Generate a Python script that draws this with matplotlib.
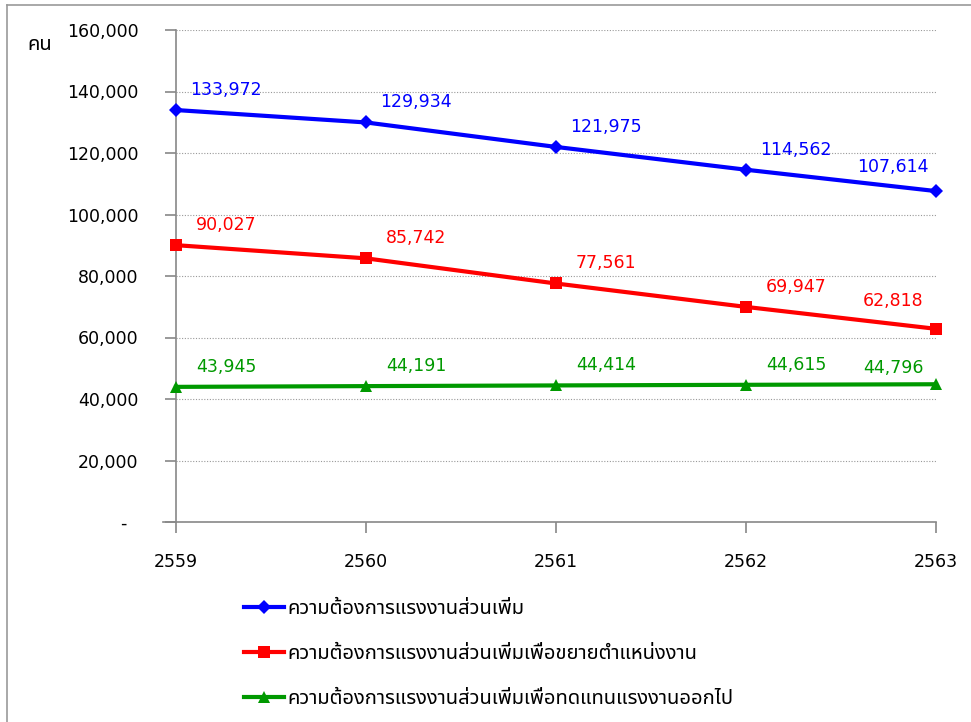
import matplotlib
matplotlib.use("Agg")
import matplotlib.pyplot as plt
from matplotlib import font_manager
from matplotlib.ft2font import FT2Font
from matplotlib.lines import Line2D
from matplotlib.ticker import FixedLocator, FuncFormatter

years = ["2559", "2560", "2561", "2562", "2563"]
total_demand = [133972, 129934, 121975, 114562, 107614]
expansion_demand = [90027, 85742, 77561, 69947, 62818]
replacement_demand = [43945, 44191, 44414, 44615, 44796]

series_names = [
    "ความต้องการแรงงานส่วนเพิ่ม",
    "ความต้องการแรงงานส่วนเพิ่มเพื่อขยายตำแหน่งงาน",
    "ความต้องการแรงงานส่วนเพิ่มเพื่อทดแทนแรงงานออกไป",
]
y_unit = "คน"


def thai_family():
    """Return the name of an installed font that has Thai glyphs."""
    seen = {}
    for f in font_manager.fontManager.ttflist:
        seen.setdefault(f.name, f.fname)
    preferred = ["Tahoma", "Noto Sans Thai", "Noto Sans Thai UI", "Loma",
                 "Garuda", "Norasi", "Sarabun", "Leelawadee UI", "Leelawadee"]
    names = preferred + sorted(n for n in seen if n not in preferred)
    for name in names:
        path = seen.get(name)
        if not path:
            continue
        try:
            if FT2Font(path).get_char_index(ord("ค")):
                return name
        except Exception:
            pass
    return None


tf = thai_family()
families = ([tf] if tf else []) + ["DejaVu Sans"]
plt.rcParams["font.family"] = ["DejaVu Sans"] + ([tf] if tf else [])

fig = plt.figure(figsize=(9.71, 7.22), dpi=100)
ax = fig.add_axes([176 / 971, 1 - 522 / 722, 760 / 971, 492 / 722])

x = list(range(len(years)))
styles = [
    ("#0000ff", "D", 7.5, total_demand, 17),
    ("#ff0000", "s", 8.5, expansion_demand, 20),
    ("#009900", "^", 9, replacement_demand, 12),
]
lines = []
for (color, marker, ms, vals, last_dy), name in zip(styles, series_names):
    ln, = ax.plot(x, vals, color=color, lw=3, marker=marker, ms=ms,
                  markeredgewidth=0, label=name, clip_on=False, zorder=3)
    lines.append(ln)
    for i, v in enumerate(vals):
        off = (-31, last_dy) if i == len(vals) - 1 else (36, 14.5)
        ax.annotate(f"{v:,}", (i, v), xytext=off, textcoords="offset points",
                    ha="center", va="center", color=color, fontsize=12.5,
                    family=["DejaVu Sans"])

ax.set_xlim(0, 4)
ax.set_ylim(0, 160000)
ax.yaxis.set_major_locator(FixedLocator(range(0, 160001, 20000)))
ax.yaxis.set_major_formatter(FuncFormatter(lambda v, p: "-  " if v == 0 else f"{int(v):,}"))
ax.set_xticks(x)
ax.set_xticklabels(years)
ax.grid(axis="y", color="#999999", linestyle=(0, (1, 1.5)), lw=0.8)
ax.set_axisbelow(True)

for side in ("top", "right"):
    ax.spines[side].set_visible(False)
for side in ("left", "bottom"):
    ax.spines[side].set_color("#888888")
    ax.spines[side].set_linewidth(1.2)
ax.spines["bottom"].set_bounds(-0.07, 4)
ax.tick_params(axis="y", length=8, width=1.2, color="#888888", labelsize=12.5, pad=19)
ax.tick_params(axis="x", length=8, width=1.2, color="#888888", labelsize=12.5, pad=14)

fig.text(40 / 971, 1 - 45 / 722, y_unit, ha="center", va="center", fontsize=14.5,
         family=families)

leg = fig.legend(handles=lines, loc="center left",
                 bbox_to_anchor=(244 / 971, 1 - 654 / 722), frameon=False,
                 prop={"family": families, "size": 14.5}, handlelength=2.0,
                 handletextpad=0.15, labelspacing=1.22, borderaxespad=0,
                 borderpad=0)

# thin frame lines along the top and left of the figure
fig.add_artist(Line2D([7 / 971, 1.0], [1 - 5 / 722] * 2, transform=fig.transFigure,
                      color="#999999", lw=1.2))
fig.add_artist(Line2D([7 / 971] * 2, [0, 1 - 5 / 722], transform=fig.transFigure,
                      color="#999999", lw=1.2))

fig.savefig("out.png", dpi=100)
